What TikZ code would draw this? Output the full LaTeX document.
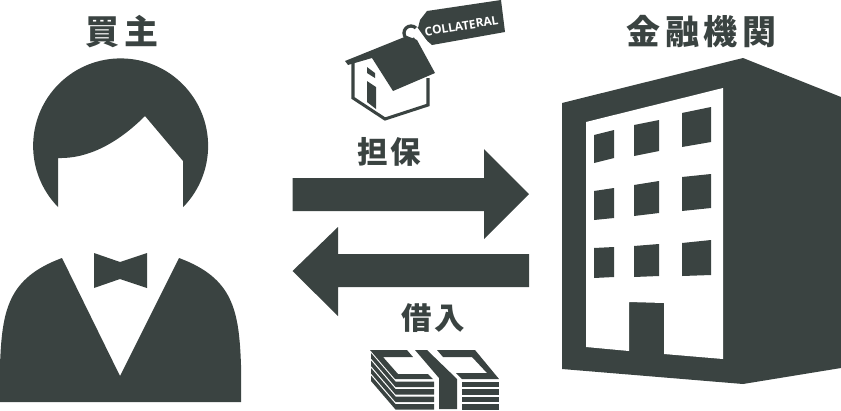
\documentclass[tikz,border=0pt]{standalone}
\usepackage{fontspec}
\usepackage{tikz}
\newfontfamily\jpfont[LetterSpace=8]{Noto Sans CJK JP}
\newfontfamily\jptitlefont[LetterSpace=13]{Noto Sans CJK JP}
\setsansfont{Open Sans}
\definecolor{icondark}{HTML}{3A4341}
\tikzset{
  icon/.style={fill=icondark,draw=none},
  title/.style={font=\jptitlefont\bfseries\fontsize{29}{32}\selectfont,text=icondark,inner sep=0pt},
  caption/.style={font=\jpfont\bfseries\fontsize{26}{29}\selectfont,text=icondark,inner sep=0pt},
}
\begin{document}
\begin{tikzpicture}[x=0.03cm,y=-0.03cm]
\useasboundingbox (0,0) rectangle (841,410);
%person
\fill[icon] (58,207) arc (135.7:404.3:87.5) -- (183,161) -- (145,116)
  .. controls (118,143) and (88,159) .. (58,158) -- cycle;
\fill[icon] (0,402) -- (0,365) .. controls (2,310) and (8,278) .. (62,258) -- (120,376) -- (179,258)
  .. controls (233,278) and (239,310) .. (241,365) -- (241,402) -- cycle;
\fill[icon] (94,253) -- (120,262) -- (147,253) -- (147,288) -- (120,279) -- (94,288) -- cycle;
%bank
\fill[icon] (562,103) -- (743,58) -- (841,97) -- (841,368) -- (743,384) -- (562,369) -- cycle;
\fill[white] (586,122) -- (723,88) -- (723,359) -- (664,354) -- (664,303) -- (629,302) -- (629,351) -- (586,347) -- cycle;
\fill[icon] (594,135) -- (614,130) -- (614,158) -- (594,163) -- cycle;
\fill[icon] (634,125) -- (659,120) -- (659,151) -- (634,156) -- cycle;
\fill[icon] (682,113) -- (711,107) -- (711,142) -- (682,147) -- cycle;
\fill[icon] (594,191) -- (614,188) -- (614,218) -- (594,220) -- cycle;
\fill[icon] (634,185) -- (659,181) -- (659,213) -- (634,216) -- cycle;
\fill[icon] (682,177) -- (711,174) -- (711,208) -- (682,211) -- cycle;
\fill[icon] (594,248) -- (614,247) -- (614,277) -- (594,278) -- cycle;
\fill[icon] (634,246) -- (659,244) -- (659,276) -- (634,277) -- cycle;
\fill[icon] (682,243) -- (711,240) -- (711,275) -- (682,276) -- cycle;
%arrows
\fill[icon] (292.5,178) -- (484,178) -- (484,149) -- (529,194) -- (484,239) -- (484,211) -- (292.5,211) -- cycle;
\fill[icon] (529,254) -- (338,254) -- (338,227) -- (292.5,271) -- (338,316) -- (338,287) -- (529,287) -- cycle;
%tag
\fill[icon] (427,11) -- (501,0) -- (505,32) -- (432,45) -- (417,32) -- (420,20) -- cycle;
\draw[icondark,line width=2.8pt] (411,33) circle (7);
\fill[white] (411,33) -- (417,27) -- (427,41) -- (420,46) -- cycle;
\node[font=\sffamily\bfseries\fontsize{10.2}{12}\selectfont,text=white,rotate=9,inner sep=0pt] (tagtext) at (461.5,26) {COLLATERAL};
%house
\fill[icon] (345,61) -- (407,36) -- (417,40) -- (435,73) -- (393,91) -- (372,58) -- (348,65) -- cycle;
\draw[icondark,line width=2.6pt] (353,63) -- (353,98) -- (385,119) -- (428,105) -- (428,78);
\fill[icon] (367,67) -- (375,73) -- (375,78) -- (367,73) -- cycle;
\fill[icon] (367,81) -- (376,87) -- (376,109) -- (367,102) -- cycle;
%money
\fill[icon] (370,350) -- (407,350) -- (413,357) -- (383,357) -- (398,374) -- (428,374) -- (433,379) -- (395,379) -- cycle;
\fill[icon] (415,350) -- (427,350) -- (457,379) -- (457,409) -- (439,409) -- (439,378) -- cycle;
\fill[icon] (437,350) -- (475,350) -- (499,379) -- (462,379) -- (456,373) -- (487,373) -- (472,357) -- (443,357) -- cycle;
\foreach \k in {0,1,2,3} {
  \fill[icon,yshift=-\k*0.225cm] (371,353) -- (395.5,381.5) -- (434,381.5) -- (434,387) -- (395.5,387) -- (371,358.5) -- cycle;
  \fill[icon,yshift=-\k*0.225cm] (462,381.5) -- (499,381.5) -- (499,387) -- (462,387) -- cycle;
}
%labels
\node[title] (buyer) at (122,32) {買主};
\node[title] (bank) at (701.5,32) {金融機関};
\node[caption] (pledge) at (389,152) {担保};
\node[caption] (loan) at (433,318) {借入};
\end{tikzpicture}
\end{document}
